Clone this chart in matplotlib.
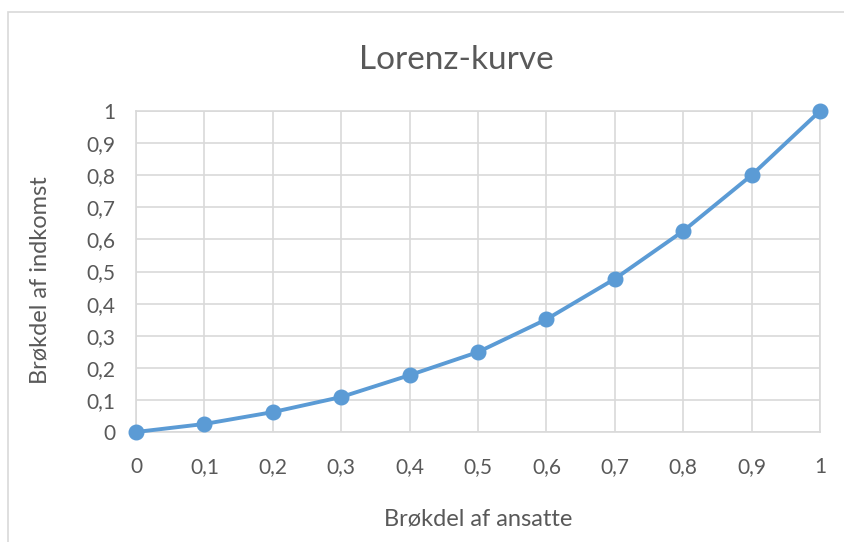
import matplotlib.pyplot as plt
from matplotlib.patches import Rectangle
from matplotlib.ticker import FuncFormatter

# andel af ansatte / andel af indkomst
ansatte = [0, 0.1, 0.2, 0.3, 0.4, 0.5, 0.6, 0.7, 0.8, 0.9, 1.0]
indkomst = [0, 0.025, 0.062, 0.109, 0.177, 0.249, 0.351, 0.477, 0.626, 0.80, 1.0]
ticks = [0, 0.1, 0.2, 0.3, 0.4, 0.5, 0.6, 0.7, 0.8, 0.9, 1.0]

TEXT = "#595959"
GRID = "#D9D9D9"
BLUE = "#5B9BD5"

plt.rcParams["font.family"] = ["Lato", "DejaVu Sans"]


def komma(v, pos):
    s = f"{v:.1f}".rstrip("0").rstrip(".")
    return s.replace(".", ",")


fig = plt.figure(figsize=(8.44, 5.42), dpi=100)
fig.patches.append(Rectangle((8 / 844, -0.1), 1.0, (542 - 12) / 542 + 0.1,
                             transform=fig.transFigure, fill=False,
                             edgecolor=GRID, linewidth=1.2))

ax = fig.add_axes([136 / 844, 110 / 542, 684 / 844, 321 / 542])
ax.plot(ansatte, indkomst, color=BLUE, linewidth=2.8, marker="o",
        markersize=10.5, clip_on=False, zorder=3)

ax.set_xlim(0, 1)
ax.set_ylim(0, 1)
ax.set_xticks(ticks)
ax.set_yticks(ticks)
ax.xaxis.set_major_formatter(FuncFormatter(komma))
ax.yaxis.set_major_formatter(FuncFormatter(komma))
ax.grid(True, color=GRID, linewidth=1.2)
ax.set_axisbelow(True)
for s in ax.spines.values():
    s.set_color(GRID)
    s.set_linewidth(1.2)
ax.tick_params(length=0, labelsize=15, labelcolor=TEXT)
ax.tick_params(axis="x", pad=18)
ax.tick_params(axis="y", pad=15)

fig.text(456 / 844, 1 - 60 / 542, "Lorenz-kurve", ha="center", va="center",
         fontsize=24, color=TEXT)
fig.text(478 / 844, 1 - 519 / 542, "Brøkdel af ansatte", ha="center",
         va="center", fontsize=17, color=TEXT)
fig.text(40 / 844, 1 - 280 / 542, "Brøkdel af indkomst", ha="center",
         va="center", rotation=90, fontsize=17, color=TEXT)

fig.savefig("out.png", dpi=100)
